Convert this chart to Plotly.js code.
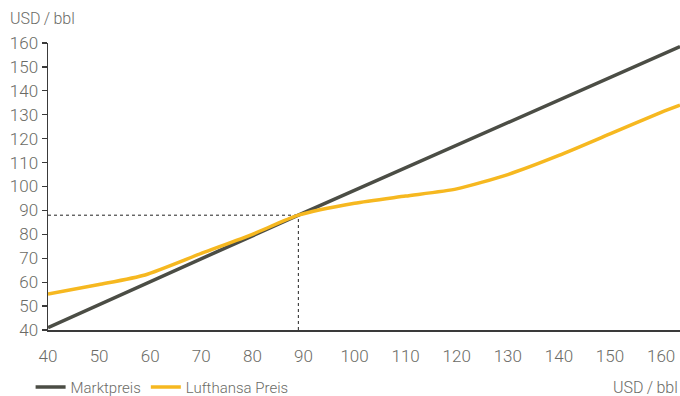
<!DOCTYPE html>
<html>
<head>
<meta charset="utf-8">
<script src="https://cdn.plot.ly/plotly-3.0.1.min.js"></script>
<style>html,body{margin:0;padding:0;background:#fff;}#chart{width:680px;height:396px;}</style>
</head>
<body>
<div id="chart"></div>
<script>
const marktX = [40, 89, 163.7];
const marktY = [41, 88, 158.5];
const lhX = [40, 50, 59, 70, 80, 89, 100, 110, 120, 130, 140, 150, 160, 163.7];
const lhY = [55, 59, 63, 72, 80, 88, 93, 96, 99, 105, 113, 122, 131, 134];
const crossX = 89;
const crossY = 88;
const xTicks = [40, 50, 60, 70, 80, 90, 100, 110, 120, 130, 140, 150, 160];
const yTicks = [40, 50, 60, 70, 80, 90, 100, 110, 120, 130, 140, 150, 160];
const unitLabel = 'USD\u2009/\u2009bbl';

const fontFam = 'Roboto, "Liberation Sans", sans-serif';
const textCol = '#6b6b66';

const traces = [
  {x: marktX, y: marktY, mode: 'lines', name: 'Marktpreis',
   line: {color: '#4b4d45', width: 3.5}},
  {x: lhX, y: lhY, mode: 'lines', name: 'Lufthansa Preis',
   line: {color: '#f6b820', width: 3.5, shape: 'spline', smoothing: 0.6}}
];

const layout = {
  width: 680, height: 396,
  margin: {l: 48, r: 0, t: 43, b: 66, autoexpand: false},
  paper_bgcolor: '#fff', plot_bgcolor: '#fff',
  font: {family: fontFam, size: 17, color: textCol, weight: 300},
  showlegend: true,
  legend: {orientation: 'h', xref: 'container', yref: 'container', x: 0.045, xanchor: 'left',
           y: 0.022, yanchor: 'middle',
           font: {size: 15, color: textCol}, itemwidth: 30, tracegroupgap: 0},
  xaxis: {range: [40, 163.7], tickvals: xTicks, ticktext: xTicks.map(String),
          showgrid: false, zeroline: false, showline: true, linecolor: '#3a3a3a', linewidth: 1.5,
          ticks: '', ticklabelstandoff: 10, fixedrange: true, automargin: false},
  yaxis: {range: [40, 160], tickvals: yTicks, ticktext: yTicks.map(String),
          showgrid: false, zeroline: false, showline: true, linecolor: '#3a3a3a', linewidth: 1.5,
          ticks: 'outside', ticklen: 5, tickcolor: '#3a3a3a', tickwidth: 1.2, fixedrange: true,
          automargin: false},
  shapes: [
    {type: 'line', xref: 'x', yref: 'y', x0: xTicks[0], x1: crossX, y0: crossY, y1: crossY,
     line: {color: '#222', width: 1, dash: 'dot'}, layer: 'below'},
    {type: 'line', xref: 'x', yref: 'y', x0: crossX, x1: crossX, y0: yTicks[0], y1: crossY,
     line: {color: '#222', width: 1, dash: 'dot'}, layer: 'below'}
  ],
  annotations: [
    {text: unitLabel, xref: 'paper', yref: 'paper', x: -0.063, y: 1.087, xanchor: 'left', yanchor: 'middle',
     showarrow: false, font: {size: 16, color: textCol}},
    {text: unitLabel, xref: 'paper', yref: 'paper', x: 1, y: -0.199, xanchor: 'right', yanchor: 'middle',
     showarrow: false, font: {size: 16, color: textCol}}
  ]
};

Plotly.newPlot('chart', traces, layout, {displayModeBar: false, staticPlot: true});
</script>
</body>
</html>
